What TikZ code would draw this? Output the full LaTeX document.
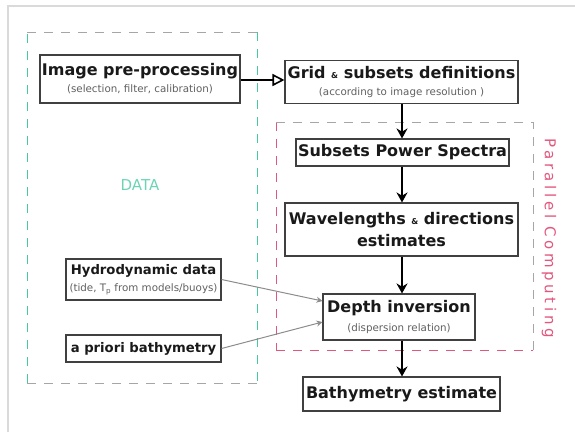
\documentclass[tikz,border=0pt]{standalone}
\usepackage{fontspec}
\setmainfont{DejaVu Sans}
\newfontfamily\spacedfont[LetterSpace=24]{DejaVu Sans}
\usetikzlibrary{arrows.meta,calc}
\definecolor{datateal}{HTML}{45C9A2}
\definecolor{parred}{HTML}{E2577E}
\definecolor{frame}{HTML}{DADADA}
\definecolor{sub}{HTML}{606060}
\newcommand{\ttl}{\fontsize{16}{22}\selectfont\bfseries}
\newcommand{\mttl}{\fontsize{13.2}{15}\selectfont\bfseries}
\newcommand{\stl}{\fontsize{10.3}{12}\selectfont\color{sub}}
\newcommand{\amp}{{\fontsize{8}{9}\selectfont\&}}
\begin{document}
\begin{tikzpicture}[x=1pt,y=-1pt,
  stepbox/.style={draw=black!75,line width=1.1pt,fill=white,align=center,
    inner sep=0pt,text=black!90},
  flow/.style={line width=1.9pt,-{Stealth[length=10pt,width=11pt]}},
  feed/.style={draw=black!45,line width=1pt,-{Stealth[length=6pt,width=6pt]}},
  dashgrp/.style={line width=1pt,dash pattern=on 9pt off 8pt}]
\useasboundingbox (0,0) rectangle (575,432);
% faint page frame
\draw[frame,line width=1.2pt] (8,432) -- (8,6) -- (575,6);

% DATA group
\draw[dashgrp,datateal] (27,383) -- (27,32);
\draw[dashgrp,datateal] (257,32) -- (257,383);
\draw[dashgrp,black!35] (27,32) -- (257,32);
\draw[dashgrp,black!35] (27,383) -- (257,383);
\node[text=datateal!80,font=\fontsize{15}{16}\selectfont] (datalbl) at (140,185) {DATA};

% parallel computing group
\draw[dashgrp,parred] (276,122) -- (276,350);
\draw[dashgrp,black!35] (276,122) -- (533,122) -- (533,350);
\draw[dashgrp,parred] (276,350) -- (533,350);
\node[text=parred,rotate=-90,font=\spacedfont\fontsize{15}{16}\selectfont] (parlbl) at (549,238) {Parallel Computing};

% process boxes
\node[stepbox,minimum width=200pt,minimum height=48pt] (pre) at (140,79)
  {{\ttl Image pre-processing}\\[5pt]{\stl (selection, filter, calibration)}};
\node[stepbox,minimum width=233pt,minimum height=43pt] (grid) at (401.5,82)
  {{\ttl Grid \amp{} subsets definitions}\\[5pt]{\stl (according to image resolution )}};
\node[stepbox,minimum width=213pt,minimum height=27pt] (spec) at (402.5,152.5)
  {\ttl Subsets Power Spectra};
\node[stepbox,minimum width=233pt,minimum height=53pt] (wave) at (401.5,229.5)
  {{\ttl Wavelengths \amp{} directions}\\[6pt]{\ttl estimates}};
\node[stepbox,minimum width=152pt,minimum height=46pt] (depth) at (399,317)
  {{\ttl Depth inversion}\\[7pt]{\stl (dispersion relation)}};
\node[stepbox,minimum width=197pt,minimum height=34pt] (bathy) at (401.5,394)
  {\ttl Bathymetry estimate};
\node[stepbox,minimum width=155pt,minimum height=41pt] (hydro) at (143.5,279.5)
  {{\mttl Hydrodynamic data}\\[5pt]{\stl (tide, T$_\mathrm{p}$ from models/buoys)}};
\node[stepbox,minimum width=155pt,minimum height=27pt] (prior) at (143.5,348.5)
  {\mttl a priori bathymetry};

% main flow column
\coordinate (col) at ([xshift=0.5pt]grid.south);

% connectors
\draw[line width=1.6pt,-{Triangle[open,length=12pt,width=12pt]}]
  ([yshift=-1pt]pre.east) -- ([yshift=-1pt]pre.east -| grid.west);
\draw[flow] (col) -- (col |- spec.north);
\draw[flow] (col |- spec.south) -- (col |- wave.north);
\draw[flow] (col |- wave.south) -- (col |- depth.north);
\draw[flow] (col |- depth.south) -- (col |- bathy.north);
\draw[feed] (hydro.east) -- ([yshift=16pt]depth.west);
\draw[feed] (prior.east) -- ([yshift=-5pt]depth.west);
\end{tikzpicture}
\end{document}
